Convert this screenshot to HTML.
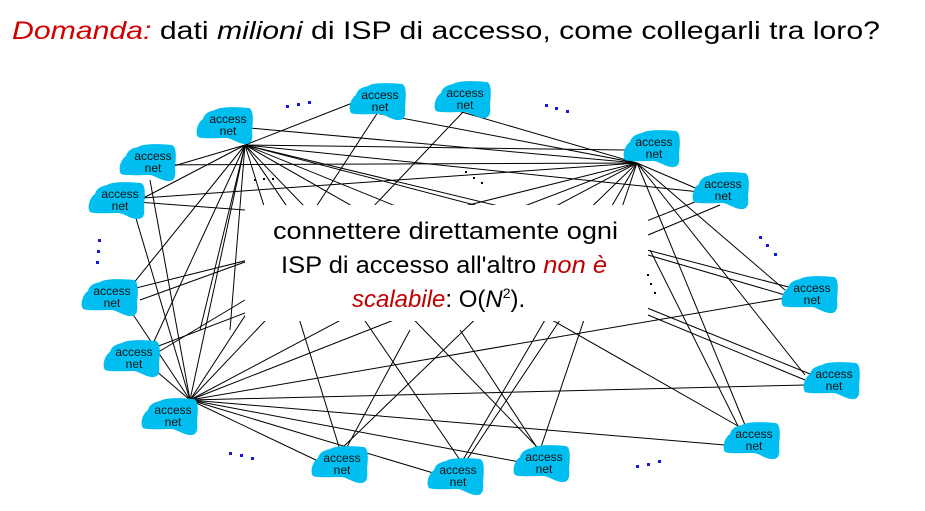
<!DOCTYPE html>
<html><head><style>body{margin:0;background:#fff}svg{display:block}</style></head>
<body>
<svg width="925" height="511" viewBox="0 0 925 511" xmlns="http://www.w3.org/2000/svg" font-family="Liberation Sans, sans-serif">
<defs>
<g id="c">
<path d="M-22,-6 C-20,-13 -14,-14 -10,-15 C-4,-19 14,-18 24,-17 C29,-15 28,-4 27,6 C28,14 27,20 19,19 C12,18 8,14 2,13 C-8,13 -22,14 -27,12 C-30,8 -28,-2 -22,-6 Z" fill="#00BFF0"/>
</g>
</defs>
<g stroke="#000" stroke-width="1" fill="none">
<line x1="245" y1="145" x2="355" y2="102"/><line x1="245" y1="145" x2="625" y2="150"/>
<line x1="245" y1="145" x2="700" y2="192"/><line x1="245" y1="145" x2="160" y2="170"/>
<line x1="245" y1="145" x2="130" y2="205"/><line x1="245" y1="145" x2="120" y2="300"/>
<line x1="245" y1="145" x2="150" y2="350"/><line x1="245" y1="145" x2="190" y2="400"/>
<line x1="245" y1="145" x2="200" y2="330"/><line x1="245" y1="145" x2="230" y2="330"/>
<line x1="245" y1="145" x2="340" y2="450"/><line x1="245" y1="145" x2="460" y2="460"/>
<line x1="245" y1="145" x2="540" y2="450"/><line x1="245" y1="145" x2="800" y2="290"/>
<line x1="245" y1="145" x2="820" y2="378"/><line x1="245" y1="145" x2="745" y2="430"/>
<line x1="245" y1="145" x2="640" y2="240"/>
<line x1="637" y1="163" x2="250" y2="128"/><line x1="637" y1="163" x2="140" y2="165"/>
<line x1="637" y1="163" x2="115" y2="200"/><line x1="637" y1="163" x2="120" y2="292"/>
<line x1="637" y1="163" x2="135" y2="355"/><line x1="637" y1="163" x2="190" y2="400"/>
<line x1="637" y1="163" x2="370" y2="112"/><line x1="637" y1="163" x2="455" y2="110"/>
<line x1="637" y1="163" x2="700" y2="190"/><line x1="637" y1="163" x2="785" y2="290"/>
<line x1="637" y1="163" x2="805" y2="375"/><line x1="637" y1="163" x2="745" y2="425"/>
<line x1="637" y1="163" x2="340" y2="450"/><line x1="637" y1="163" x2="460" y2="465"/>
<line x1="637" y1="163" x2="540" y2="450"/>
<line x1="190" y1="400" x2="378" y2="112"/><line x1="190" y1="400" x2="463" y2="112"/>
<line x1="190" y1="400" x2="150" y2="180"/><line x1="190" y1="400" x2="135" y2="215"/>
<line x1="190" y1="400" x2="130" y2="310"/><line x1="190" y1="400" x2="155" y2="370"/>
<line x1="190" y1="400" x2="320" y2="462"/><line x1="190" y1="400" x2="440" y2="475"/>
<line x1="190" y1="400" x2="525" y2="463"/><line x1="190" y1="400" x2="725" y2="445"/>
<line x1="190" y1="400" x2="805" y2="385"/><line x1="190" y1="400" x2="785" y2="298"/>
<line x1="190" y1="400" x2="700" y2="200"/>
<line x1="340" y1="460" x2="410" y2="330"/><line x1="460" y1="470" x2="560" y2="320"/>
<line x1="545" y1="460" x2="460" y2="330"/><line x1="745" y1="440" x2="650" y2="250"/>
<line x1="805" y1="380" x2="648" y2="315"/><line x1="785" y1="295" x2="648" y2="255"/>
<line x1="720" y1="205" x2="648" y2="235"/><line x1="140" y1="300" x2="245" y2="262"/>
<line x1="145" y1="360" x2="245" y2="300"/><line x1="110" y1="200" x2="245" y2="210"/>
</g>
<rect x="245" y="205" width="403" height="116" fill="#fff"/>
<g>
<use href="#c" x="225" y="125"/><use href="#c" x="378" y="101"/><use href="#c" x="463" y="99"/>
<use href="#c" x="652" y="148"/><use href="#c" x="721" y="190"/><use href="#c" x="148" y="162"/>
<use href="#c" x="117" y="200"/><use href="#c" x="110" y="297"/><use href="#c" x="132" y="358"/>
<use href="#c" x="170" y="416"/><use href="#c" x="340" y="464"/><use href="#c" x="456" y="476"/>
<use href="#c" x="542" y="463"/><use href="#c" x="752" y="440"/><use href="#c" x="832" y="380"/>
<use href="#c" x="810" y="294"/>
</g>
<g font-size="12" fill="#111" text-anchor="middle">
<text x="228" y="123">access</text><text x="228" y="135">net</text>
<text x="380" y="99">access</text><text x="380" y="111">net</text>
<text x="465" y="97">access</text><text x="465" y="109">net</text>
<text x="654" y="146">access</text><text x="654" y="158">net</text>
<text x="723" y="188">access</text><text x="723" y="200">net</text>
<text x="153" y="160">access</text><text x="153" y="172">net</text>
<text x="120" y="198">access</text><text x="120" y="210">net</text>
<text x="112" y="295">access</text><text x="112" y="307">net</text>
<text x="134" y="356">access</text><text x="134" y="368">net</text>
<text x="173" y="414">access</text><text x="173" y="426">net</text>
<text x="342" y="462">access</text><text x="342" y="474">net</text>
<text x="458" y="474">access</text><text x="458" y="486">net</text>
<text x="544" y="461">access</text><text x="544" y="473">net</text>
<text x="754" y="438">access</text><text x="754" y="450">net</text>
<text x="834" y="378">access</text><text x="834" y="390">net</text>
<text x="812" y="292">access</text><text x="812" y="304">net</text>
</g>
<g fill="#1515e0">
<rect x="286" y="105" width="3" height="3"/><rect x="297" y="103" width="3" height="3"/><rect x="308" y="101" width="3" height="3"/>
<rect x="545" y="104" width="3" height="3"/><rect x="555" y="107" width="3" height="3"/><rect x="566" y="110" width="3" height="3"/>
<rect x="98" y="239" width="3" height="3"/><rect x="97" y="250" width="3" height="3"/><rect x="96" y="261" width="3" height="3"/>
<rect x="759" y="236" width="3" height="3"/><rect x="766" y="244" width="3" height="3"/><rect x="774" y="253" width="3" height="3"/>
<rect x="229" y="452" width="3" height="3"/><rect x="240" y="454" width="3" height="3"/><rect x="251" y="457" width="3" height="3"/>
<rect x="636" y="465" width="3" height="3"/><rect x="647" y="463" width="3" height="3"/><rect x="658" y="460" width="3" height="3"/>
</g>
<g fill="#000">
<rect x="254" y="179" width="2" height="2"/><rect x="263" y="178" width="2" height="2"/><rect x="272" y="178" width="2" height="2"/>
<rect x="465" y="171" width="2" height="2"/><rect x="473" y="177" width="2" height="2"/><rect x="481" y="182" width="2" height="2"/>
<rect x="647" y="274" width="2" height="2"/><rect x="650" y="283" width="2" height="2"/><rect x="654" y="292" width="2" height="2"/>
</g>
<text x="12" y="39" font-size="25" textLength="868" lengthAdjust="spacingAndGlyphs" fill="#000"><tspan fill="#d00000" font-style="italic">Domanda:</tspan> dati <tspan font-style="italic">milioni</tspan> di ISP di accesso, come collegarli tra loro?</text>
<g font-size="24" fill="#000">
<text x="273" y="239" textLength="345" lengthAdjust="spacingAndGlyphs">connettere direttamente ogni</text>
<text x="281" y="273" textLength="326" lengthAdjust="spacingAndGlyphs">ISP di accesso all'altro <tspan fill="#c00000" font-style="italic">non è</tspan></text>
<text x="352" y="307"><tspan fill="#c00000" font-style="italic">scalabile</tspan>: O(<tspan font-style="italic">N</tspan><tspan font-size="14" dy="-9">2</tspan><tspan dy="9">).</tspan></text>
</g>
</svg>
</body></html>
